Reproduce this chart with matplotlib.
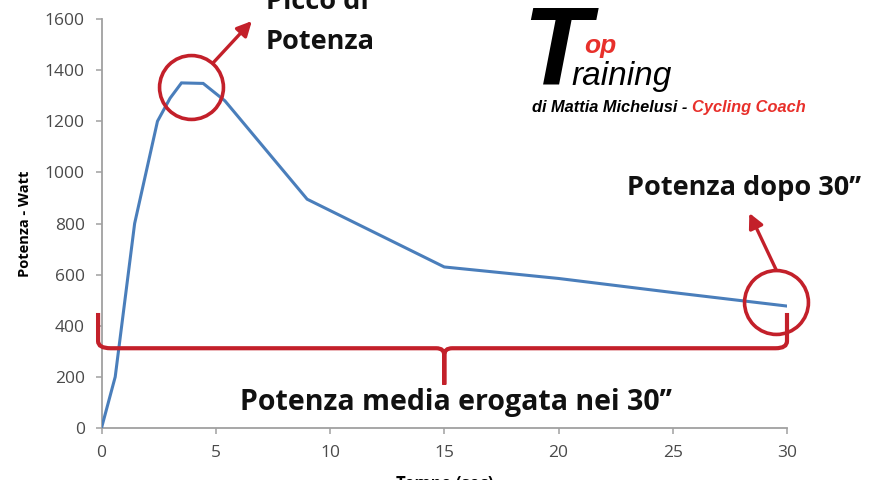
import matplotlib
matplotlib.use("Agg")
import matplotlib.pyplot as plt
from matplotlib.path import Path
from matplotlib.patches import PathPatch

# tempo (s) e potenza (W)
tempo = [0, 0.6, 1.45, 2.45, 3.0, 3.5, 4.45, 5.4, 9, 15, 20, 25, 30]
potenza = [0, 200, 800, 1200, 1290, 1350, 1348, 1280, 895, 630, 585, 530, 477]

xticks = [0, 5, 10, 15, 20, 25, 30]
yticks = [0, 200, 400, 600, 800, 1000, 1200, 1400, 1600]

blu = "#4a7ebb"
rosso = "#c3202a"
rosso_logo = "#e8302b"
W, H = 880, 480


def fx(px):
    return px / W


def fy(py):
    return 1 - py / H


fig = plt.figure(figsize=(8.8, 4.8), dpi=100)
ax = fig.add_axes([fx(101.5), fy(428), fx(787) - fx(101.5), fy(19) - fy(428)])

ax.plot(tempo, potenza, color=blu, lw=2.2, solid_joinstyle="miter", zorder=3)

ax.set_xlim(0, 30)
ax.set_ylim(0, 1600)
ax.set_xticks(xticks)
ax.set_yticks(yticks)
for s in ["top", "right"]:
    ax.spines[s].set_visible(False)
for s in ["left", "bottom"]:
    ax.spines[s].set_color("#a0a0a0")
    ax.spines[s].set_linewidth(1.3)
ax.tick_params(direction="out", length=4, width=1.1, color="#a0a0a0",
               labelsize=12.5, labelcolor="#4a4a4a")
ax.tick_params(axis="x", pad=8)
ax.tick_params(axis="y", pad=8)
for lab in ax.get_xticklabels() + ax.get_yticklabels():
    lab.set_family("Open Sans")

ax.set_ylabel("Potenza - Watt", fontsize=10.5, fontweight="bold",
              family="Open Sans", labelpad=9)
ax.set_xlabel("Tempo (sec)", fontsize=12, fontweight="bold",
              family="Open Sans", labelpad=10)

# cerchi
ax.plot([3.91], [1334], "o", ms=46, mfc="none", mec=rosso, mew=2.6,
        clip_on=False, zorder=4)
ax.plot([29.53], [493], "o", ms=46, mfc="none", mec=rosso, mew=2.6,
        clip_on=False, zorder=4)

# frecce
freccia = dict(arrowstyle="-|>", color=rosso, lw=2.4, mutation_scale=22,
               shrinkA=0, shrinkB=0)
ax.annotate("", xy=(6.58, 1592), xytext=(4.88, 1428), arrowprops=freccia,
            annotation_clip=False)
ax.annotate("", xy=(28.35, 841), xytext=(29.53, 618), arrowprops=freccia,
            annotation_clip=False)

# graffa
verts = [(-0.15, 450), (-0.15, 340), (-0.15, 312), (0.4, 312),
         (14.65, 312), (15, 312), (15, 285), (15, 170),
         (15, 285), (15, 312), (15.35, 312),
         (29.5, 312), (30, 312), (30, 340), (30, 450)]
codes = [Path.MOVETO, Path.LINETO, Path.CURVE3, Path.CURVE3,
         Path.LINETO, Path.CURVE3, Path.CURVE3, Path.LINETO,
         Path.LINETO, Path.CURVE3, Path.CURVE3,
         Path.LINETO, Path.CURVE3, Path.CURVE3, Path.LINETO]
ax.add_patch(PathPatch(Path(verts, codes), fill=False, ec=rosso, lw=3,
                       capstyle="butt", joinstyle="miter", clip_on=False,
                       zorder=4))

# testi
testo = dict(family="Open Sans", fontweight="bold", color="#111111",
             va="baseline")
fig.text(fx(266), fy(9), "Picco di", fontsize=19.5, **testo)
fig.text(fx(266), fy(49), "Potenza", fontsize=19.5, **testo)
fig.text(fx(627), fy(195), "Potenza dopo 30\u2019\u2019", fontsize=19.5, **testo)
fig.text(fx(456), fy(410), "Potenza media erogata nei 30\u2019\u2019",
         fontsize=20.5, ha="center", **testo)

# logo
logo = dict(family="Liberation Sans", style="italic", va="baseline")
fig.text(fx(522), fy(83), "T", fontsize=80, fontweight="bold", color="black",
         **logo)
fig.text(fx(584), fy(53), "op", fontsize=19, fontweight="bold",
         color=rosso_logo, **logo)
fig.text(fx(571), fy(85), "raining", fontsize=24, color="black", **logo)
t1 = fig.text(fx(532), fy(112), "di Mattia Michelusi - ", fontsize=11.8,
              fontweight="bold", color="black", **logo)
fig.canvas.draw()
bb = t1.get_window_extent()
fig.text(bb.x1 / W, fy(112), "Cycling Coach", fontsize=11.8,
         fontweight="bold", color=rosso_logo, **logo)

fig.savefig("out.png", dpi=100, facecolor="white")
